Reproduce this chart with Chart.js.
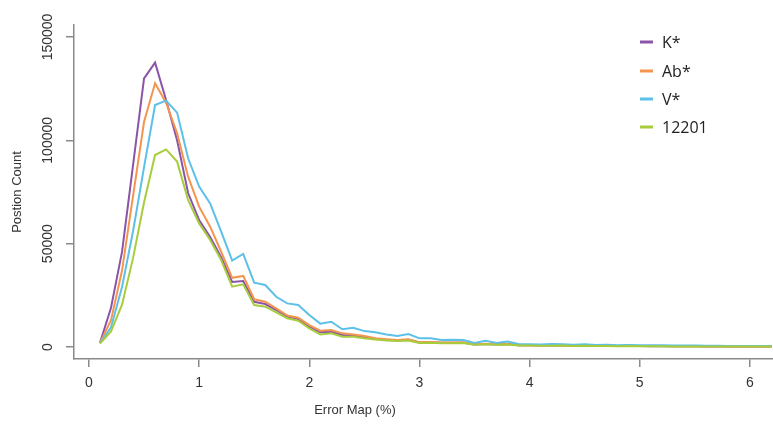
<!DOCTYPE html>
<html>
<head>
<meta charset="utf-8">
<script src="https://cdn.jsdelivr.net/npm/chart.js@4"></script>
<style>
  html, body { margin: 0; padding: 0; background: #fff; }
  #chart { display: block; }
</style>
</head>
<body>
<canvas id="chart" width="773" height="424"></canvas>
<script>
// Error map values (%)
const errorMap = [0.1, 0.2, 0.3, 0.4, 0.5, 0.6, 0.7, 0.8, 0.9, 1.0,
    1.1, 1.2, 1.3, 1.4, 1.5, 1.6, 1.7, 1.8, 1.9, 2.0,
    2.1, 2.2, 2.3, 2.4, 2.5, 2.6, 2.7, 2.8, 2.9, 3.0,
    3.1, 3.2, 3.3, 3.4, 3.5, 3.6, 3.7, 3.8, 3.9, 4.0,
    4.1, 4.2, 4.3, 4.4, 4.5, 4.6, 4.7, 4.8, 4.9, 5.0,
    5.1, 5.2, 5.3, 5.4, 5.5, 5.6, 5.7, 5.8, 5.9, 6.0,
    6.1, 6.2];

// Position counts per series
const kStar = [2000, 19000, 46000, 88000, 130000, 137600, 119500, 100000, 74500, 61400,
    53200, 43500, 31500, 31900, 21900, 20800, 17900, 14700, 13500, 9800,
    7100, 7400, 5800, 5600, 4700, 4000, 3500, 3200, 3500, 2200,
    2200, 2000, 2000, 2000, 1200, 1500, 1200, 1400, 800, 800,
    700, 700, 800, 600, 700, 500, 600, 500, 500, 500,
    400, 500, 400, 400, 400, 300, 400, 300, 300, 300,
    300, 300];
const abStar = [2000, 13000, 37000, 73000, 109000, 127600, 118200, 103400, 82400, 67900,
    58200, 46100, 33500, 34400, 23100, 21900, 18700, 15200, 14200, 10600,
    7900, 8200, 6600, 6100, 5300, 4200, 3800, 3400, 3700, 2300,
    2400, 2200, 2200, 2300, 1300, 1600, 1300, 1500, 800, 900,
    800, 800, 900, 700, 800, 600, 600, 500, 600, 500,
    500, 500, 400, 400, 400, 400, 400, 300, 300, 300,
    300, 300];
const vStar = [1800, 9500, 29000, 56000, 87000, 117100, 119200, 113400, 91300, 77600,
    69500, 55800, 41800, 45000, 31100, 30000, 24300, 21100, 20300, 15500,
    11300, 12200, 8600, 9300, 7700, 7100, 6100, 5300, 6300, 4200,
    4200, 3400, 3500, 3400, 1900, 3000, 1900, 2700, 1500, 1300,
    1200, 1400, 1300, 1100, 1300, 1000, 1100, 900, 1000, 900,
    800, 800, 700, 700, 700, 600, 600, 500, 500, 500,
    500, 500];
const s12201 = [1600, 7500, 20500, 43000, 70000, 92900, 95600, 89700, 71100, 59800,
    51800, 42100, 29200, 30300, 20300, 19500, 16800, 13900, 12700, 9000,
    6100, 6600, 5000, 5000, 4200, 3600, 3200, 2900, 3100, 1900,
    2000, 1800, 1800, 1900, 1100, 1300, 1100, 1200, 700, 700,
    600, 600, 700, 500, 600, 500, 500, 400, 500, 400,
    400, 400, 300, 300, 300, 300, 300, 200, 200, 200,
    200, 200];

const seriesNames = ['K*', 'Ab*', 'V*', '12201'];
const seriesColors = ['#8a55a6', '#f4954f', '#5cc0e8', '#a8cd3c'];

// Axis ticks
const xTicks = [0, 1, 2, 3, 4, 5, 6];
const yTicks = [0, 50000, 100000, 150000];

function toPoints(values) {
    return values.map((v, i) => ({ x: errorMap[i], y: v }));
}

const allSeries = [kStar, abStar, vStar, s12201];

const axisColor = '#8a8a8a';
const textColor = '#333333';

// Extra text: rotated y tick labels, x title, legend
const textPlugin = {
    id: 'textPlugin',
    afterDraw(chart) {
        const ctx = chart.ctx;
        const yScale = chart.scales.y;
        ctx.save();
        ctx.fillStyle = textColor;
        ctx.font = '14px "Liberation Sans", Arial, sans-serif';
        ctx.textAlign = 'center';
        ctx.textBaseline = 'middle';
        yTicks.forEach(v => {
            const py = yScale.getPixelForValue(v);
            ctx.save();
            ctx.translate(48, py);
            ctx.rotate(-Math.PI / 2);
            ctx.fillText(String(v), 0, 0);
            ctx.restore();
        });

        ctx.font = '13px "Liberation Sans", Arial, sans-serif';
        ctx.fillText('Error Map (%)', 355, 410);

        // legend
        const rows = [42, 71, 99, 127];
        ctx.textAlign = 'left';
        ctx.font = '16px "Open Sans", "Noto Sans", sans-serif';
        seriesNames.forEach((name, i) => {
            ctx.strokeStyle = seriesColors[i];
            ctx.lineWidth = 3;
            ctx.beginPath();
            ctx.moveTo(640, rows[i]);
            ctx.lineTo(653, rows[i]);
            ctx.stroke();
            ctx.fillStyle = '#222';
            ctx.fillText(name, 662, rows[i] + 1);
        });
        ctx.restore();
    }
};

const ctx = document.getElementById('chart').getContext('2d');
new Chart(ctx, {
    type: 'line',
    data: {
        datasets: allSeries.map((vals, i) => ({
            label: seriesNames[i],
            data: toPoints(vals),
            borderColor: seriesColors[i],
            borderWidth: 2,
            pointRadius: 0,
            tension: 0,
            fill: false,
            order: allSeries.length - i
        }))
    },
    options: {
        responsive: false,
        animation: false,
        devicePixelRatio: 1,
        layout: { padding: { top: 25, right: 0, left: 0, bottom: 0 } },
        plugins: {
            legend: { display: false },
            tooltip: { enabled: false }
        },
        scales: {
            x: {
                type: 'linear',
                min: -0.136,
                max: 6.21,
                afterBuildTicks: s => { s.ticks = xTicks.map(v => ({ value: v })); },
                afterFit: s => { s.height = 65; },
                ticks: {
                    color: textColor,
                    padding: 8,
                    maxRotation: 0,
                    font: { family: '"Liberation Sans", Arial, sans-serif', size: 14 }
                },
                grid: { drawOnChartArea: false, drawTicks: true, tickLength: 8, color: axisColor, lineWidth: 1.5 },
                border: { display: true, color: axisColor, width: 1.5 }
            },
            y: {
                min: -5806,
                max: 155806,
                afterBuildTicks: s => { s.ticks = yTicks.map(v => ({ value: v })); },
                afterFit: s => { s.width = 74; },
                ticks: { display: false },
                title: {
                    display: true,
                    text: 'Postion Count',
                    color: textColor,
                    padding: { top: 10, bottom: 0 },
                    font: { family: '"Liberation Sans", Arial, sans-serif', size: 13 }
                },
                grid: { drawOnChartArea: false, drawTicks: true, tickLength: 8, color: axisColor, lineWidth: 1.5 },
                border: { display: true, color: axisColor, width: 1.5 }
            }
        }
    },
    plugins: [textPlugin]
});
</script>
</body>
</html>
